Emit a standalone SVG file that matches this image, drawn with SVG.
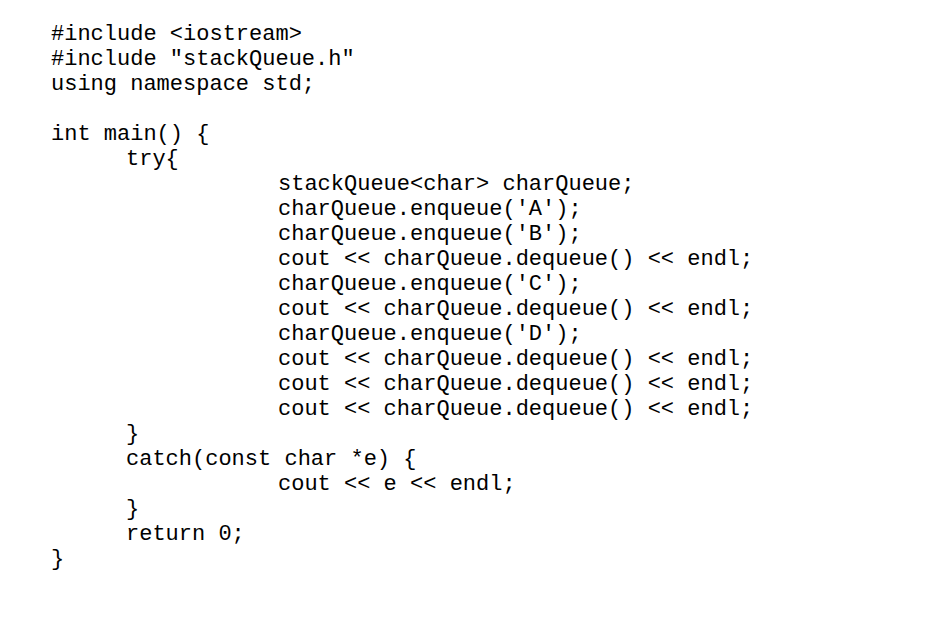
<svg xmlns="http://www.w3.org/2000/svg" width="938" height="642" viewBox="0 0 938 642">
<style>text{font-family:"Liberation Mono","Courier New",monospace;font-size:22px;fill:#000;white-space:pre}</style>
<rect width="938" height="642" fill="#fff"/>
<g id="code">
<text x="51" y="40">#include &lt;iostream&gt;</text>
<text x="51" y="65">#include "stackQueue.h"</text>
<text x="51" y="90">using namespace std;</text>
<text x="51" y="140">int main() {</text>
<text x="126" y="165">try{</text>
<text x="278" y="190">stackQueue&lt;char&gt; charQueue;</text>
<text x="278" y="215">charQueue.enqueue('A');</text>
<text x="278" y="240">charQueue.enqueue('B');</text>
<text x="278" y="265">cout &lt;&lt; charQueue.dequeue() &lt;&lt; endl;</text>
<text x="278" y="290">charQueue.enqueue('C');</text>
<text x="278" y="315">cout &lt;&lt; charQueue.dequeue() &lt;&lt; endl;</text>
<text x="278" y="340">charQueue.enqueue('D');</text>
<text x="278" y="365">cout &lt;&lt; charQueue.dequeue() &lt;&lt; endl;</text>
<text x="278" y="390">cout &lt;&lt; charQueue.dequeue() &lt;&lt; endl;</text>
<text x="278" y="415">cout &lt;&lt; charQueue.dequeue() &lt;&lt; endl;</text>
<text x="126" y="440">}</text>
<text x="126" y="465">catch(const char *e) {</text>
<text x="278" y="490">cout &lt;&lt; e &lt;&lt; endl;</text>
<text x="126" y="515">}</text>
<text x="126" y="540">return 0;</text>
<text x="51" y="565">}</text>
</g>
</svg>
